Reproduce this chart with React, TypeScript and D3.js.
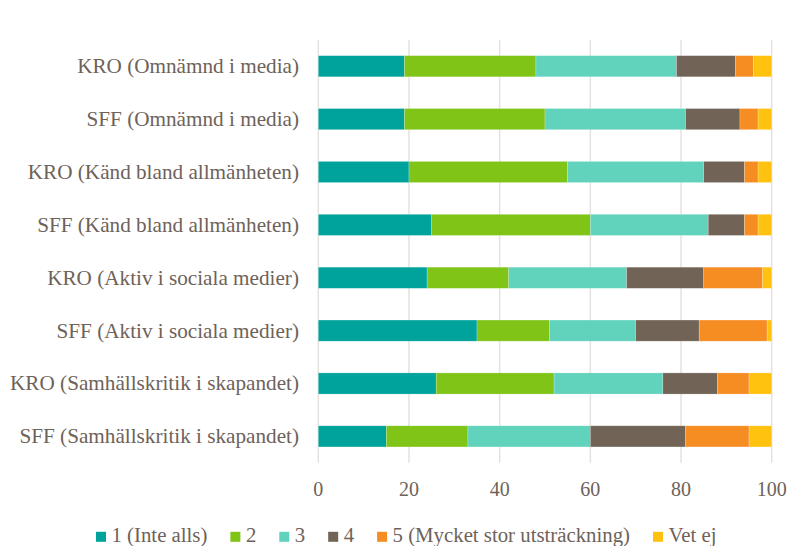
import React, { useEffect, useRef } from "react";
import * as d3 from "d3";

const categories = [
  "KRO (Omnämnd i media)",
  "SFF (Omnämnd i media)",
  "KRO (Känd bland allmänheten)",
  "SFF (Känd bland allmänheten)",
  "KRO (Aktiv i sociala medier)",
  "SFF (Aktiv i sociala medier)",
  "KRO (Samhällskritik i skapandet)",
  "SFF (Samhällskritik i skapandet)",
];

const seriesNames = ["1 (Inte alls)", "2", "3", "4", "5 (Mycket stor utsträckning)", "Vet ej"];
const seriesColors = ["#00A39B", "#80C417", "#61D3BD", "#716456", "#F68D22", "#FFC20F"];

const s1 = [19, 19, 20, 25, 24, 35, 26, 15];
const s2 = [29, 31, 35, 35, 18, 16, 26, 18];
const s3 = [31, 31, 30, 26, 26, 19, 24, 27];
const s4 = [13, 12, 9, 8, 17, 14, 12, 21];
const s5 = [4, 4, 3, 3, 13, 15, 7, 14];
const sVetEj = [4, 3, 3, 3, 2, 1, 5, 5];

const xTicks = [0, 20, 40, 60, 80, 100];

const W = 791;
const H = 546;
const TEXT = "#6E6259";
const FONT = "Liberation Serif, serif";

export default function App() {
  const ref = useRef<SVGSVGElement>(null);

  useEffect(() => {
    const svg = d3.select(ref.current);
    svg.selectAll("*").remove();

    const margin = { left: 318.3, right: W - 771.7, top: 39.8, bottom: H - 462.8 };
    const x = d3.scaleLinear().domain([0, 100]).range([margin.left, W - margin.right]);
    const y = d3
      .scaleBand<string>()
      .domain(categories)
      .range([margin.top, H - margin.bottom])
      .paddingInner(0.6)
      .paddingOuter(0.3);

    const series = [s1, s2, s3, s4, s5, sVetEj];
    const rows = categories.map((c, i) => {
      const o: any = { cat: c };
      series.forEach((s, j) => (o["k" + j] = s[i]));
      return o;
    });
    const keys = series.map((_, j) => "k" + j);
    const stacked = d3.stack().keys(keys)(rows);

    svg
      .append("g")
      .selectAll("line")
      .data(xTicks)
      .join("line")
      .attr("x1", (d) => x(d))
      .attr("x2", (d) => x(d))
      .attr("y1", margin.top)
      .attr("y2", H - margin.bottom)
      .attr("stroke", "#E6E1DD")
      .attr("stroke-width", 1.5);

    const g = svg.append("g");
    stacked.forEach((layer, j) => {
      g.append("g")
        .attr("fill", seriesColors[j])
        .selectAll("rect")
        .data(layer)
        .join("rect")
        .attr("x", (d) => x(d[0]))
        .attr("width", (d) => Math.max(0, x(d[1]) - x(d[0])))
        .attr("y", (d) => y((d.data as any).cat)!)
        .attr("height", y.bandwidth())
        .attr("stroke", "#ffffff")
        .attr("stroke-opacity", 0.35)
        .attr("stroke-width", 0.6);
    });

    svg
      .append("g")
      .attr("font-family", FONT)
      .attr("font-size", 21.2)
      .attr("fill", TEXT)
      .selectAll("text")
      .data(categories)
      .join("text")
      .attr("x", 299)
      .attr("y", (d) => y(d)! + y.bandwidth() / 2)
      .attr("dy", "0.33em")
      .attr("text-anchor", "end")
      .text((d) => d);

    svg
      .append("g")
      .attr("font-family", FONT)
      .attr("font-size", 20)
      .attr("fill", TEXT)
      .selectAll("text")
      .data(xTicks)
      .join("text")
      .attr("x", (d) => x(d))
      .attr("y", 495.5)
      .attr("text-anchor", "middle")
      .text((d) => String(d));

    const lg = svg.append("g").attr("font-family", FONT).attr("font-size", 20.8).attr("fill", TEXT);
    const items = lg.selectAll("g").data(seriesNames).join("g");
    items
      .append("rect")
      .attr("width", 10)
      .attr("height", 10)
      .attr("y", 531.8)
      .attr("fill", (_, i) => seriesColors[i]);
    items
      .append("text")
      .attr("x", 15.5)
      .attr("y", 542)
      .text((d) => d);
    let cx = 96;
    items.each(function () {
      const node = this as SVGGElement;
      d3.select(node).attr("transform", `translate(${cx},0)`);
      const t = node.querySelector("text") as SVGTextElement;
      cx += 15.5 + t.getComputedTextLength() + 23;
    });
  }, []);

  return (
    <svg
      ref={ref}
      width={W}
      height={H}
      style={{ position: "absolute", left: 0, top: 0, background: "#fff" }}
    />
  );
}
